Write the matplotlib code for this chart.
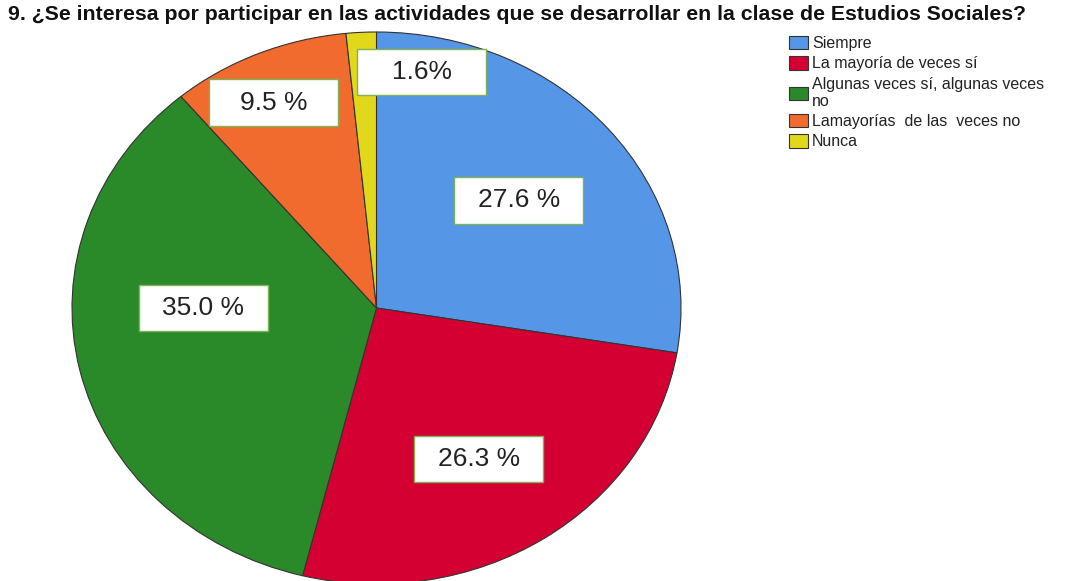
import matplotlib.pyplot as plt
from matplotlib.patches import Patch, Rectangle

plt.rcParams['font.family'] = ['Liberation Sans', 'DejaVu Sans']

categorias = ["Siempre", "La mayoría de veces sí", "Algunas veces sí, algunas veces\nno",
              "Lamayorías  de las  veces no", "Nunca"]
porcentajes = [27.6, 26.3, 35.0, 9.5, 1.6]
etiquetas = ["27.6 %", "26.3 %", "35.0 %", "9.5 %", "1.6%"]
colores = ["#5596E6", "#D50032", "#2A8A2A", "#F26B2E", "#E2D81B"]

# centro de cada caja de etiqueta (unidades del pastel, radio = 1)
pos_x = [0.467, 0.336, -0.569, -0.339, 0.148]
pos_y = [0.391, -0.547, 0.0, 0.743, 0.855]
caja_w, caja_h = 0.424, 0.170

fig = plt.figure(figsize=(10.67, 5.81), dpi=100)
ax = fig.add_axes([72 / 1067, 1 - 584 / 581, 609 / 1067, 552 / 581])

ax.pie(porcentajes, colors=colores, startangle=90, counterclock=False,
       wedgeprops=dict(edgecolor="#333333", linewidth=0.8))
ax.set_aspect("auto")
ax.set_xlim(-1, 1)
ax.set_ylim(-1, 1)

for x, y, txt in zip(pos_x, pos_y, etiquetas):
    ax.add_patch(Rectangle((x - caja_w / 2, y - caja_h / 2), caja_w, caja_h,
                           facecolor="white", edgecolor="#7DB356", linewidth=1.0, zorder=3))
    ax.text(x, y, txt, ha="center", va="center", fontsize=19, color="#222222", zorder=4)

fig.text(8 / 1067, 1 - 15 / 581,
         "9. ¿Se interesa por participar en las actividades que se desarrollar en la clase de Estudios Sociales?",
         ha="left", va="center", fontsize=15.3, fontweight="bold", color="#111111")

handles = [Patch(facecolor=c, edgecolor="#333333", linewidth=0.8) for c in colores]
fig.legend(handles, categorias, loc="upper left", bbox_to_anchor=(789 / 1067, 1 - 36 / 581),
           frameon=False, fontsize=11.5, handlelength=1.2, handleheight=0.9,
           handletextpad=0.25, labelspacing=0.32, borderpad=0, borderaxespad=0,
           labelcolor="#222222")

fig.savefig("out.png", dpi=100)
